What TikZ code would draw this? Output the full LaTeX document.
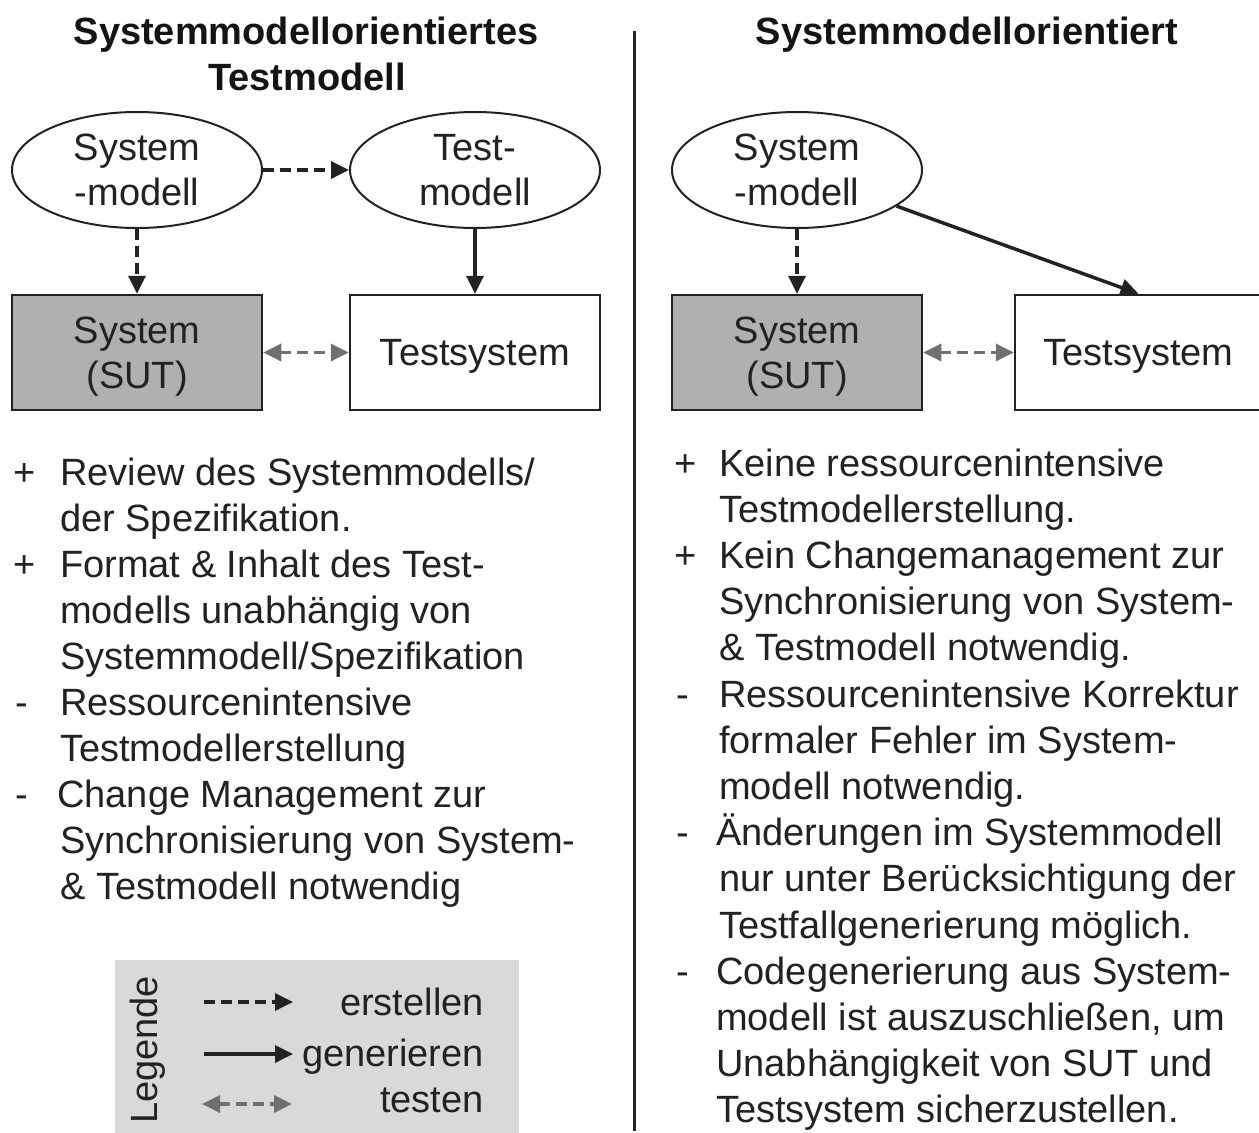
\documentclass[tikz,border=0pt]{standalone}
\usepackage{fontspec}
\setmainfont{Liberation Sans}
\usetikzlibrary{shapes.geometric,arrows.meta}
\definecolor{ink}{HTML}{222222}
\definecolor{sutgray}{HTML}{B0B0B0}
\definecolor{testgray}{HTML}{707070}
\definecolor{legendbg}{HTML}{D9D9D9}

\begin{document}
\begin{tikzpicture}[x=1pt,y=-1pt,
  every node/.style={inner sep=0pt, text=ink, font=\fontsize{38}{45}\selectfont},
  model/.style={ellipse, draw=ink, line width=2pt, fill=white,
    minimum width=250pt, minimum height=116pt, align=center},
  unit/.style={rectangle, draw=ink, line width=2.5pt, text depth=0pt,
    minimum width=250pt, minimum height=115pt, align=center},
  sut/.style={unit, fill=sutgray},
  tsys/.style={unit, fill=white},
  tiphead/.style={-{Triangle[length=18pt,width=17pt]}},
  create/.style={draw=ink, line width=3.5pt, dash pattern=on 11pt off 6pt, tiphead},
  generate/.style={draw=ink, line width=3.5pt, tiphead},
  testing/.style={draw=testgray, line width=3.5pt, dash pattern=on 11pt off 6pt,
    {Triangle[length=18pt,width=17pt]}-{Triangle[length=18pt,width=17pt]}},
  heading/.style={font=\bfseries\fontsize{38}{45}\selectfont, text=black!92, anchor=base},
  txt/.style={anchor=base west},
]
\useasboundingbox (0,0) rectangle (1259,1133);
\fill[white] (0,0) rectangle (1259,1133);
\clip (0,0) rectangle (1259,1133);

% column separator
\coordinate (sepTop) at (634,31);
\coordinate (sepBot) at (634,1131);
\draw[ink, line width=3pt] (sepTop) -- (sepBot);

% headings
\node[heading] (hl1) at (306,44) {Systemmodellorientiertes};
\node[heading] (hl2) at (307,90) {Testmodell};
\node[heading] (hr1) at (967,44) {Systemmodellorientiert};

% left diagram
\node[model] (sm1) at (137,170) {System\\-modell};
\node[model] (tm1) at (475,170) {Test-\\modell};
\node[sut]   (sut1) at (137,352.5) {System\\(SUT)};
\node[tsys]  (ts1) at (475,352.5) {Testsystem};
\draw[create] (sm1.east) -- (tm1.west);
\draw[create] (sm1.south) -- (sut1.north);
\draw[generate] (tm1.south) -- (ts1.north);
\draw[testing] (sut1.east) -- (ts1.west);

% right diagram
\node[model] (sm2) at (797,170) {System\\-modell};
\node[sut]   (sut2) at (797,352.5) {System\\(SUT)};
\node[tsys, minimum width=247pt] (ts2) at (1138.5,352.5) {Testsystem};
\draw[create] (sm2.south) -- (sut2.north);
\draw[generate] (sm2) -- (ts2.north);
\draw[testing] (sut2.east) -- (ts2.west);

% left list
\node[txt] (lb1) at (13,485) {+};
\node[txt] (lt1) at (60,485) {Review des Systemmodells/};
\node[txt] (lt2) at (60,531) {der Spezifikation.};
\node[txt] (lb2) at (13,577) {+};
\node[txt] (lt3) at (60,577) {Format \& Inhalt des Test-};
\node[txt] (lt4) at (60,623) {modells unabhängig von};
\node[txt] (lt5) at (60,669) {Systemmodell/Spezifikation};
\node[txt] (lb3) at (15,715) {-};
\node[txt] (lt6) at (60,715) {Ressourcenintensive};
\node[txt] (lt7) at (60,761) {Testmodellerstellung};
\node[txt] (lb4) at (15,807) {-};
\node[txt] (lt8) at (57,807) {Change Management zur};
\node[txt] (lt9) at (60,853) {Synchronisierung von System-};
\node[txt] (lt10) at (60,899) {\& Testmodell notwendig};

% right list
\node[txt] (rb1) at (674,476) {+};
\node[txt] (rt1) at (719,476) {Keine ressourcenintensive};
\node[txt] (rt2) at (719,522.2) {Testmodellerstellung.};
\node[txt] (rb2) at (674,568.4) {+};
\node[txt] (rt3) at (719,568.4) {Kein Changemanagement zur};
\node[txt] (rt4) at (719,614.6) {Synchronisierung von System-};
\node[txt] (rt5) at (719,660.8) {\& Testmodell notwendig.};
\node[txt] (rb3) at (676,707) {-};
\node[txt] (rt6) at (719,707) {Ressourcenintensive Korrektur};
\node[txt] (rt7) at (719,753.2) {formaler Fehler im System-};
\node[txt] (rt8) at (719,799.4) {modell notwendig.};
\node[txt] (rb4) at (676,845.6) {-};
\node[txt] (rt9) at (716,845.6) {Änderungen im Systemmodell};
\node[txt] (rt10) at (719,891.8) {nur unter Berücksichtigung der};
\node[txt] (rt11) at (719,938) {Testfallgenerierung möglich.};
\node[txt] (rb5) at (676,984.2) {-};
\node[txt] (rt12) at (716,984.2) {Codegenerierung aus System-};
\node[txt] (rt13) at (716,1030.4) {modell ist auszuschließen, um};
\node[txt] (rt14) at (716,1076.6) {Unabhängigkeit von SUT und};
\node[txt] (rt15) at (716,1122.8) {Testsystem sicherzustellen.};

% legend
\fill[legendbg] (115,960) rectangle (519,1140);
\node[rotate=90] (leg) at (148,1050) {Legende};
\coordinate (c1a) at (204,1002); \coordinate (c1b) at (293,1002);
\coordinate (c2a) at (204,1054); \coordinate (c2b) at (293,1054);
\coordinate (c3a) at (202,1104); \coordinate (c3b) at (292,1104);
\draw[create] (c1a) -- (c1b);
\draw[generate] (c2a) -- (c2b);
\draw[testing] (c3a) -- (c3b);
\node[anchor=base east] (k1) at (484,1015) {erstellen};
\node[anchor=base east] (k2) at (484,1066) {generieren};
\node[anchor=base east] (k3) at (484,1112) {testen};
\end{tikzpicture}
\end{document}
